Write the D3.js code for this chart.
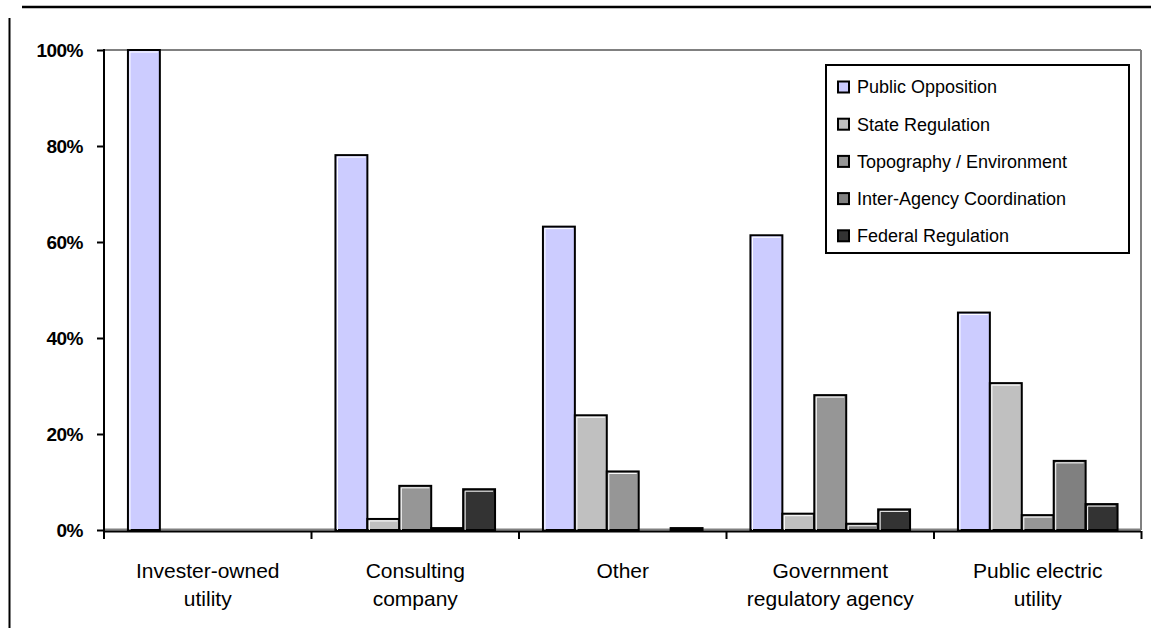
<!DOCTYPE html>
<html><head><meta charset="utf-8">
<script src="https://cdn.jsdelivr.net/npm/d3@7"></script>
<style>html,body{margin:0;padding:0;background:#fff;}svg{display:block;}</style>
</head><body>
<svg id="c" width="1151" height="628"></svg>
<script>
const categories = [["Invester-owned","utility"],["Consulting","company"],["Other"],["Government","regulatory agency"],["Public electric","utility"]];
const seriesNames = ["Public Opposition","State Regulation","Topography / Environment","Inter-Agency Coordination","Federal Regulation"];
const seriesColors = ["#ccccff","#c0c0c0","#969696","#808080","#333333"];
const publicOpposition = [100, 78.1, 63.2, 61.4, 45.3];
const stateRegulation = [0, 2.3, 23.9, 3.4, 30.6];
const topography = [0, 9.2, 12.2, 28.1, 3.1];
const interAgency = [0, 0.4, 0, 1.3, 14.4];
const federalRegulation = [0, 8.5, 0.4, 4.3, 5.4];
const yTicks = [0, 20, 40, 60, 80, 100];

const series = [publicOpposition, stateRegulation, topography, interAgency, federalRegulation];
const svg = d3.select("#c");
const FONT = "'Liberation Sans', Arial, sans-serif";

// frame lines
svg.append("line").attr("x1",22).attr("x2",1151).attr("y1",7).attr("y2",7).attr("stroke","#000").attr("stroke-width",2.5);
svg.append("line").attr("x1",9.5).attr("x2",9.5).attr("y1",18).attr("y2",628).attr("stroke","#000").attr("stroke-width",2);

const x0 = d3.scaleBand().domain(d3.range(categories.length)).range([104, 1141.5]).paddingInner(0).paddingOuter(0);
const x1 = d3.scaleBand().domain(d3.range(series.length)).range([0, x0.bandwidth()]).paddingOuter(0.75);
const y = d3.scaleLinear().domain([0, 100]).range([530, 50]);

// plot area gray border/grid
svg.append("line").attr("x1",104).attr("x2",1141).attr("y1",y(100)).attr("y2",y(100)).attr("stroke","#808080").attr("stroke-width",2);
svg.append("line").attr("x1",1141).attr("x2",1141).attr("y1",y(100)).attr("y2",y(0)).attr("stroke","#808080").attr("stroke-width",2);
svg.append("line").attr("x1",104).attr("x2",1141).attr("y1",y(0)-0.5).attr("y2",y(0)-0.5).attr("stroke","#808080").attr("stroke-width",2);

// bars
const g = svg.append("g");
series.forEach((vals, si) => {
  vals.forEach((v, ci) => {
    if (v <= 0) return;
    const bx = x0(ci) + x1(si), bw = x1.bandwidth();
    const top = y(v), h = y(0) - top;
    g.append("rect").attr("x", bx).attr("y", top).attr("width", bw).attr("height", h)
      .attr("fill", seriesColors[si]).attr("stroke", "#000").attr("stroke-width", 2);
    if (h > 4) {
      g.append("polyline").attr("points", `${bx+2},${y(0)} ${bx+2},${top+2} ${bx+bw-2},${top+2}`)
        .attr("fill","none").attr("stroke","#fff").attr("stroke-width",1);
    }
  });
});

// x axis
svg.append("line").attr("x1",104).attr("x2",1141).attr("y1",531.5).attr("y2",531.5).attr("stroke","#000").attr("stroke-width",2);
const xt = d3.range(categories.length + 1).map(i => 104 + i * x0.step());
svg.selectAll(".xt").data(xt).enter().append("line").attr("x1",d=>d).attr("x2",d=>d).attr("y1",531).attr("y2",539).attr("stroke","#000").attr("stroke-width",2);

// y axis
const yAxis = d3.axisLeft(y).tickValues(yTicks).tickSize(7).tickPadding(14).tickFormat(d => d + "%");
const ya = svg.append("g").attr("transform","translate(104,0)").call(yAxis);
ya.select(".domain").remove();
ya.selectAll(".tick line").attr("stroke","#000").attr("stroke-width",2);
ya.selectAll(".tick text").attr("font-family",FONT).attr("font-size",19).attr("font-weight","bold").attr("fill","#000").attr("dy","0.36em").attr("letter-spacing","-0.5");
svg.append("line").attr("x1",104).attr("x2",104).attr("y1",49).attr("y2",539).attr("stroke","#000").attr("stroke-width",2);

// category labels
categories.forEach((lines, ci) => {
  const cx = x0(ci) + x0.bandwidth()/2;
  const t = svg.append("text").attr("x", cx).attr("y", 578).attr("text-anchor","middle")
    .attr("font-family",FONT).attr("font-size",21).attr("fill","#000");
  lines.forEach((l, li) => t.append("tspan").attr("x", cx).attr("dy", li === 0 ? 0 : 28).text(l));
});

// legend
const lg = svg.append("g");
lg.append("rect").attr("x",826).attr("y",65).attr("width",303).attr("height",188).attr("fill","#fff").attr("stroke","#000").attr("stroke-width",2);
seriesNames.forEach((n, i) => {
  const cy = 87 + i * 37.2;
  lg.append("rect").attr("x",838).attr("y",cy-5.5).attr("width",11).attr("height",11).attr("fill",seriesColors[i]).attr("stroke","#000").attr("stroke-width",2);
  lg.append("text").attr("x",857).attr("y",cy).attr("dy","0.35em").attr("font-family",FONT).attr("font-size",18).attr("fill","#000").text(n);
});
</script>
</body></html>
